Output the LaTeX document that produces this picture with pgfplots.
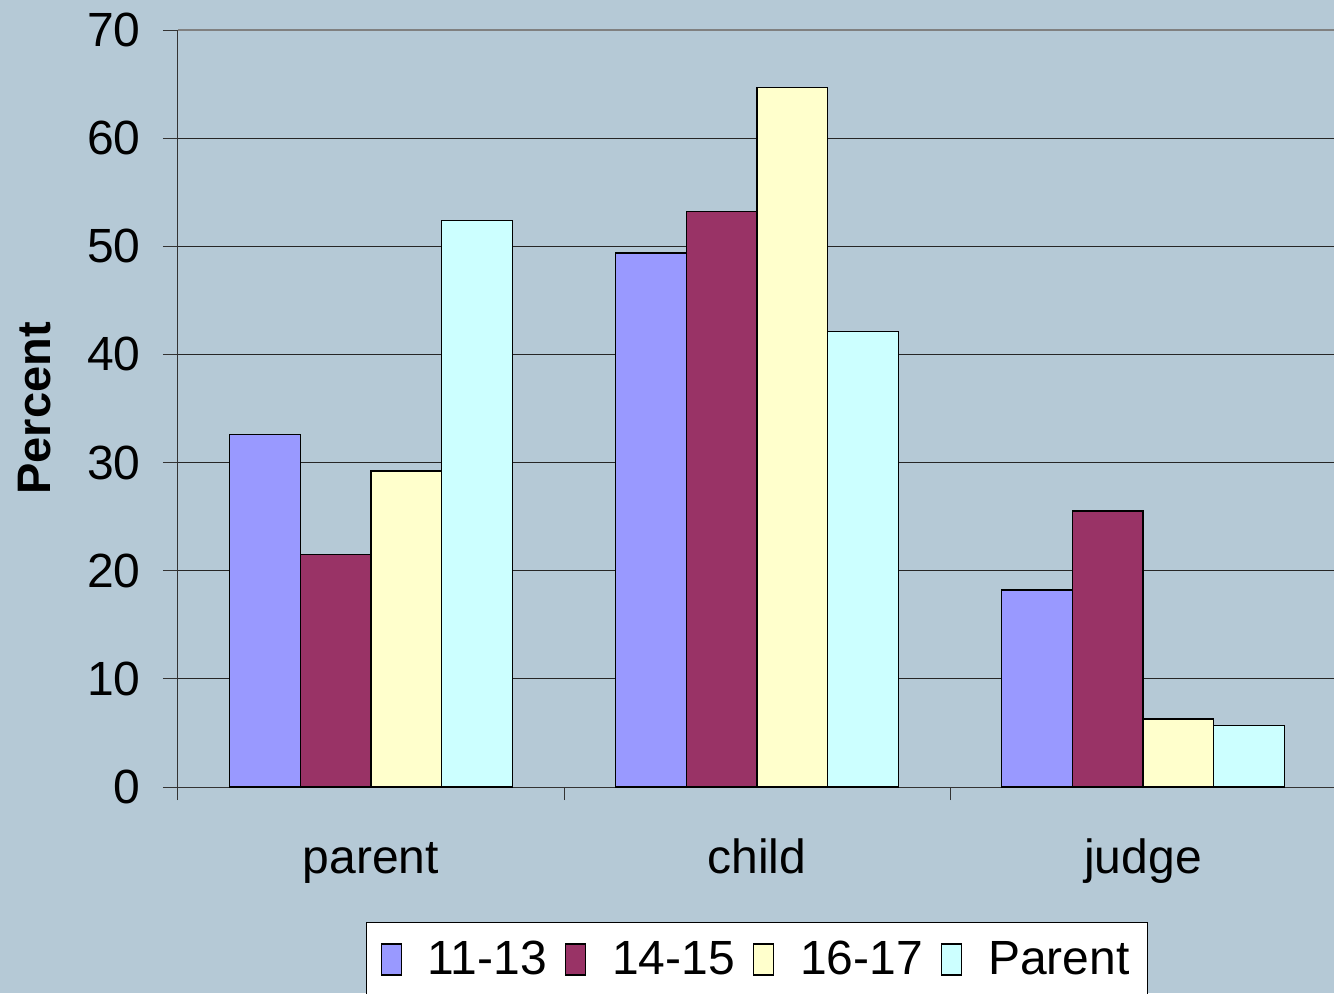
\documentclass[border=0pt]{standalone}
\usepackage{fontspec}
\setmainfont{Liberation Sans}
\usepackage{pgfplots}
\usepackage{pgfplotstable}
\pgfplotsset{compat=1.18}
\definecolor{bgblue}{RGB}{181,201,214}
\definecolor{cA}{RGB}{153,153,255}
\definecolor{cB}{RGB}{153,51,102}
\definecolor{cC}{RGB}{255,255,204}
\definecolor{cD}{RGB}{204,255,255}

\pgfplotstableread{
x a b c d
0 32.6 21.5 29.2 52.4
1 49.4 53.2 64.7 42.1
2 18.2 25.5 6.3 5.7
}\data

\begin{document}
\begin{tikzpicture}
\path[use as bounding box, clip] (0,0) rectangle (667pt,496.5pt);
\fill[bgblue] (0,0) rectangle (667pt,496.5pt);
\begin{axis}[
    at={(89pt,103pt)}, anchor=south west,
    scale only axis, width=579pt, height=378.5pt,
    ybar=0pt, bar width=0.183,
    xmin=-0.5, xmax=2.5, ymin=0, ymax=70,
    axis lines=left, axis line style={-, draw=black!80, line width=0.5pt},
    xtick={0,1,2}, xticklabels={parent,child,judge},
    minor xtick={-0.5,0.5,1.5,2.5},
    major x tick style={draw=none},
    minor x tick style={draw=black!80, line width=0.5pt},
    minor tick length=6.5pt,
    ytick={0,10,...,60},
    extra y ticks={70},
    extra y tick style={ymajorgrids=true, major grid style={draw=gray, line width=0.6pt}},
    ymajorgrids, major grid style={draw=black!85, line width=0.45pt},
    y tick style={draw=black!80, line width=0.5pt},
    tick align=outside, major tick length=7.5pt,
    tick label style={font=\fontsize{24}{24}\selectfont},
    /pgf/number format/assume math mode=true,
    yticklabel style={anchor=east, inner sep=0pt, xshift=-11pt},
    xticklabel style={anchor=base, inner sep=0pt, yshift=-35.5pt},
    every axis y label/.style={at={(axis description cs:0,0.5)}, xshift=-71.5pt, rotate=90, anchor=center},
    ylabel={\fontsize{23.5}{24}\selectfont\bfseries Percent},
    legend style={font=\fontsize{24}{28}\selectfont, draw=black, fill=white,
        at={(0.5,-0.178)}, anchor=north, legend columns=-1,
        inner xsep=7pt, inner ysep=7.5pt,
        /tikz/every odd column/.append style={column sep=11pt},
        /tikz/every even column/.append style={column sep=7pt}},
    legend image code/.code={\draw[#1, draw=black, line width=0.6pt] (0pt,-7.75pt) rectangle (10pt,7.75pt);},
    every axis plot/.append style={draw=black, line width=0.75pt},
]
\addplot[fill=cA] table[x=x, y=a] {\data};
\addplot[fill=cB] table[x=x, y=b] {\data};
\addplot[fill=cC] table[x=x, y=c] {\data};
\addplot[fill=cD] table[x=x, y=d] {\data};
\legend{11-13, 14-15, 16-17, Parent}
\end{axis}
\end{tikzpicture}
\end{document}
